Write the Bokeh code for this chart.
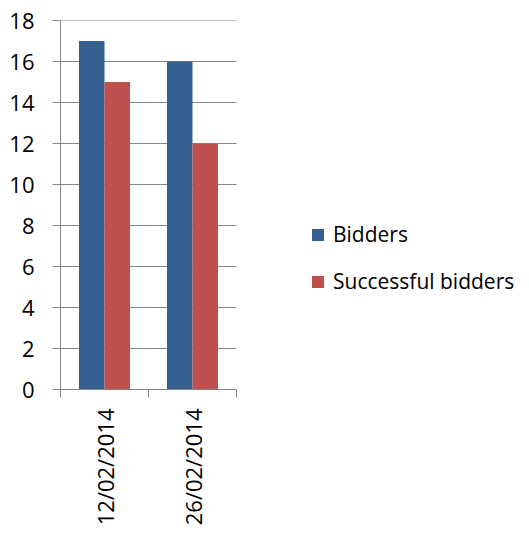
from bokeh.plotting import figure
from bokeh.models import Range1d, FixedTicker, Legend, LegendItem, ColumnDataSource
from bokeh.transform import dodge
from bokeh.embed import file_html
from bokeh.resources import INLINE
import math

categories = ["12/02/2014", "26/02/2014"]
series_names = ["Bidders", "Successful bidders"]
bidders = [17, 16]
successful = [15, 12]
y_ticks = [0, 2, 4, 6, 8, 10, 12, 14, 16, 18]

colors = ["#376092", "#C0504D"]
axis_gray = "#878787"
FONT = "Open Sans"

W, H = 521, 528
LEFT, TOP, BOTTOM = 60, 20, 139
CAT_PX = 88  # pixels per category slot
n_cat = len(categories)
x_end = (W - LEFT) / CAT_PX

centers = [i + 0.5 for i in range(n_cat)]
src = ColumnDataSource(dict(x=centers, b=bidders, s=successful))

p = figure(width=W, height=H, output_backend="svg", toolbar_location=None,
           x_range=Range1d(0, x_end), y_range=Range1d(0, 18),
           min_border_left=LEFT, min_border_right=0, min_border_top=TOP,
           min_border_bottom=BOTTOM)
p.outline_line_color = None
p.background_fill_color = "white"
p.xgrid.grid_line_color = None
p.ygrid.grid_line_color = None

# gridlines limited to the category area
p.segment(x0=[0] * len(y_ticks), y0=y_ticks, x1=[n_cat] * len(y_ticks), y1=y_ticks,
          line_color=axis_gray, line_width=1)

bw = 0.29
r1 = p.vbar(x=dodge("x", -bw / 2, range=p.x_range), top="b", width=bw, source=src,
            fill_color=colors[0], line_color=None)
r2 = p.vbar(x=dodge("x", bw / 2, range=p.x_range), top="s", width=bw, source=src,
            fill_color=colors[1], line_color=None)

# y axis
p.yaxis.ticker = FixedTicker(ticks=y_ticks)
p.yaxis.axis_line_color = axis_gray
p.yaxis.major_tick_line_color = axis_gray
p.yaxis.major_tick_out = 8
p.yaxis.major_tick_in = 0
p.yaxis.minor_tick_line_color = None
p.yaxis.major_label_text_font = FONT
p.yaxis.major_label_text_font_size = "22px"
p.yaxis.major_label_text_color = "black"
p.yaxis.major_label_standoff = 18

# x axis
p.xaxis.bounds = (0, n_cat)
p.xaxis.ticker = FixedTicker(ticks=centers, minor_ticks=list(range(n_cat + 1)))
p.xaxis.major_label_overrides = {c: lab for c, lab in zip(centers, categories)}
p.xaxis.major_label_orientation = math.pi / 2
p.xaxis.axis_line_color = axis_gray
p.xaxis.major_tick_line_color = None
p.xaxis.major_tick_out = 8
p.xaxis.major_tick_in = 0
p.xaxis.minor_tick_line_color = axis_gray
p.xaxis.minor_tick_out = 8
p.xaxis.minor_tick_in = 0
p.xaxis.major_label_text_font = FONT
p.xaxis.major_label_text_font_size = "22px"
p.xaxis.major_label_text_color = "black"
p.xaxis.major_label_standoff = 11

legend = Legend(items=[LegendItem(label=series_names[0], renderers=[r1]),
                       LegendItem(label=series_names[1], renderers=[r2])],
                location=(250, 94), orientation="vertical",
                glyph_width=15, glyph_height=15, label_standoff=8,
                label_height=22, spacing=19, padding=0, margin=0,
                border_line_color=None, background_fill_alpha=0,
                label_text_font=FONT, label_text_font_size="21px",
                label_text_color="black")
p.add_layout(legend, "center")

open("out.html", "w").write(file_html(p, INLINE))
